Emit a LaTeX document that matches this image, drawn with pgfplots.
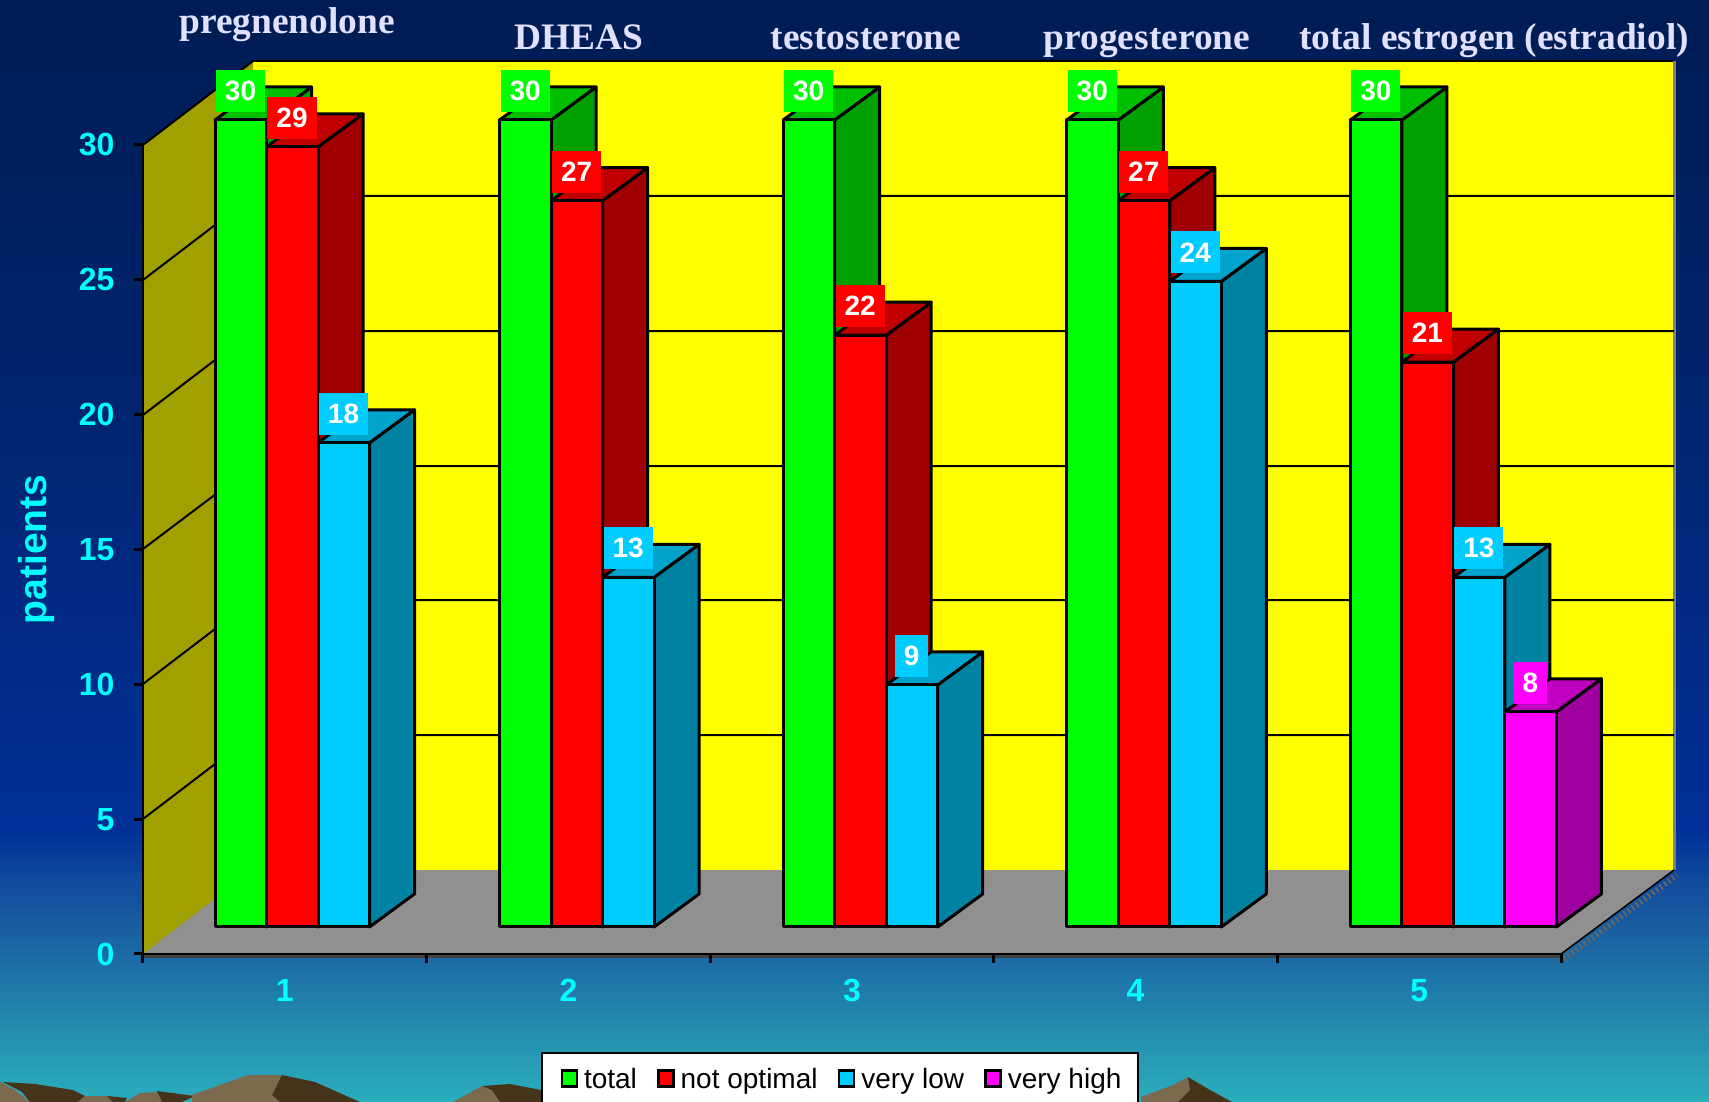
\documentclass[border=0pt]{standalone}
\usepackage{fontspec}
\setmainfont{Liberation Sans}
\newfontfamily\serifb{Liberation Serif}
\usepackage{pgfplots}
\pgfplotsset{compat=1.18}
\definecolor{bgA}{RGB}{43,174,190}
\definecolor{bgB}{RGB}{37,146,176}
\definecolor{bgC}{RGB}{27,104,164}
\definecolor{bgD}{RGB}{16,74,156}
\definecolor{bgE}{RGB}{0,48,152}
\definecolor{bgF}{RGB}{0,36,110}
\definecolor{bgG}{RGB}{0,28,84}
\pgfdeclareverticalshading{skybg}{100bp}{
 color(0bp)=(bgA);color(25bp)=(bgA);color(27.8bp)=(bgB);color(31.9bp)=(bgC);
 color(35.1bp)=(bgD);color(37.3bp)=(bgE);color(56.8bp)=(bgF);color(75bp)=(bgG);color(100bp)=(bgG)}
\definecolor{gF}{RGB}{0,255,0}\definecolor{gT}{RGB}{0,190,0}\definecolor{gS}{RGB}{0,160,0}
\definecolor{rF}{RGB}{255,0,0}\definecolor{rT}{RGB}{192,0,0}\definecolor{rS}{RGB}{160,0,0}
\definecolor{bF}{RGB}{0,204,255}\definecolor{bT}{RGB}{0,163,204}\definecolor{bS}{RGB}{0,130,163}
\definecolor{mF}{RGB}{255,0,255}\definecolor{mT}{RGB}{192,0,192}\definecolor{mS}{RGB}{160,0,160}
\definecolor{olivew}{RGB}{160,160,0}
\definecolor{wally}{RGB}{255,255,0}
\definecolor{tickc}{RGB}{0,255,255}
\definecolor{floorg}{RGB}{144,144,144}
\definecolor{titlec}{RGB}{224,224,255}
\definecolor{mtL}{RGB}{123,106,78}
\definecolor{mtD}{RGB}{70,52,26}
% bar: left x, value, colour prefix
\newcommand\threedbar[3]{%
 \pgfmathsetmacro\xa{#1+51.5}%
 \pgfmathsetmacro\xb{#1+96.5}%
 \pgfmathsetmacro\xc{#1+45}%
 \pgfmathsetmacro\yt{#2+1.2268}%
 \addplot[forget plot,draw=black,line width=3pt,line join=round,fill=#3S] coordinates {(\xa,0)(\xb,1.2268)(\xb,\yt)(\xa,#2)} --cycle;
 \addplot[forget plot,draw=black,line width=3pt,line join=round,fill=#3T] coordinates {(#1,#2)(\xa,#2)(\xb,\yt)(\xc,\yt)} --cycle;
 \addplot[forget plot,draw=black,line width=3pt,line join=round,fill=#3F] coordinates {(#1,0)(\xa,0)(\xa,#2)(#1,#2)} --cycle;
}
\newcommand\barlabel[3]{%
 \pgfmathsetmacro\xa{#1+25.5}%
 \addplot[forget plot,draw=none,mark=none,point meta=explicit symbolic,nodes near coords,
  nodes near coords style={anchor=center,yshift=29pt,fill=#3F,text=white,
   font=\fontsize{28}{30}\selectfont\bfseries,inner xsep=9pt,inner ysep=0pt,minimum height=42pt}]
  coordinates {(\xa,#2)[#2]};
}
\begin{document}
\begin{tikzpicture}
% backdrop, in picture pixels
\begin{axis}[scale only axis,width=1709pt,height=1102pt,xmin=0,xmax=1709,ymin=0,ymax=1102,y dir=reverse,hide axis,clip=true]
\addplot[draw=none,shade,shading=skybg,forget plot] coordinates {(0,0)(1709,0)(1709,1102)(0,1102)} --cycle;
% mountains
\addplot[draw=none,fill=mtL] coordinates {(0,1082)(15,1090)(30,1102)(0,1102)} --cycle;
\addplot[draw=none,fill=mtD] coordinates {(3,1082)(35,1084)(73,1090)(85,1096)(78,1102)(30,1102)(22,1092)} --cycle;
\addplot[draw=none,fill=mtL] coordinates {(78,1102)(85,1096)(107,1096)(113,1102)} --cycle;
\addplot[draw=none,fill=mtD] coordinates {(107,1096)(127,1098)(125,1102)(113,1102)} --cycle;
\addplot[draw=none,fill=mtL] coordinates {(125,1102)(140,1093)(157,1092)(162,1102)} --cycle;
\addplot[draw=none,fill=mtD] coordinates {(157,1091)(195,1096)(182,1102)(162,1102)} --cycle;
\addplot[draw=none,fill=mtL] coordinates {(192,1095)(248,1075)(282,1075)(272,1095)(280,1102)(192,1102)} --cycle;
\addplot[draw=none,fill=mtD] coordinates {(282,1075)(315,1082)(360,1102)(280,1102)(272,1095)} --cycle;
\addplot[draw=none,fill=mtL] coordinates {(453,1102)(482,1086)(492,1090)(500,1102)} --cycle;
\addplot[draw=none,fill=mtD] coordinates {(482,1086)(510,1084)(541,1090)(541,1102)(500,1102)(492,1090)} --cycle;
\addplot[draw=none,fill=mtL] coordinates {(1141,1097)(1173,1085)(1188,1077)(1190,1090)(1178,1102)(1141,1102)} --cycle;
\addplot[draw=none,fill=mtD] coordinates {(1188,1077)(1210,1090)(1232,1102)(1178,1102)(1190,1090)} --cycle;
% walls and floor
\addplot[draw=none,fill=wally] coordinates {(253,61)(1674,61)(1674,870)(253,870)} --cycle;
\addplot[draw=none,fill=olivew] coordinates {(143,954)(143,145)(253,61)(253,870)} --cycle;
\addplot[draw=none,fill=floorg] coordinates {(143,954)(1561,954)(1674,870)(253,870)} --cycle;
\addplot[draw=none,fill=black!75] coordinates {(143,954)(1561,954)(1561,958)(143,958)} --cycle;
\addplot[black,line width=2pt] coordinates {(143,145)(253,61)(1674,61)};
\addplot[black!50,line width=3pt] coordinates {(1674,61)(1674,870)};
% grid
\addplot[black,line width=2pt] coordinates {(143,819)(253,735)(1674,735)};
\addplot[black,line width=2pt] coordinates {(143,684)(253,600)(1674,600)};
\addplot[black,line width=2pt] coordinates {(143,549)(253,466)(1674,466)};
\addplot[black,line width=2pt] coordinates {(143,415)(253,331)(1674,331)};
\addplot[black,line width=2pt] coordinates {(143,280)(253,196)(1674,196)};
% right depth edge
\addplot[black!60,line width=6pt,dash pattern=on 2pt off 3pt] coordinates {(1564,959)(1677,875)};
\addplot[black,line width=1.5pt] coordinates {(1561,954)(1674,870)};
% titles
\node[anchor=base,text=titlec,font=\fontsize{37.4}{40}\selectfont\serifb\bfseries] at (axis cs:287,34) {pregnenolone};
\node[anchor=base,text=titlec,font=\fontsize{37.4}{40}\selectfont\serifb\bfseries] at (axis cs:579,50) {DHEAS};
\node[anchor=base,text=titlec,font=\fontsize{37.4}{40}\selectfont\serifb\bfseries] at (axis cs:866,50) {testosterone};
\node[anchor=base,text=titlec,font=\fontsize{37.4}{40}\selectfont\serifb\bfseries] at (axis cs:1147,50) {progesterone};
\node[anchor=base,text=titlec,font=\fontsize{37.4}{40}\selectfont\serifb\bfseries] at (axis cs:1494,50) {total estrogen (estradiol)};
\end{axis}
% axis with its ticks
\begin{axis}[scale only axis,at={(143pt,148pt)},width=1418pt,height=809pt,
 xmin=0,xmax=5,ymin=0,ymax=30,axis x line=bottom,axis y line=left,
 axis line style={-,black,line width=2.5pt},
 tick align=outside,major tick length=9pt,minor tick length=9pt,
 xtick={0.5,1.5,2.5,3.5,4.5},xticklabels={1,2,3,4,5},
 minor xtick={0,1,2,3,4,5},
 major x tick style={draw=none},
 minor x tick style={black,line width=3pt},
 ytick={0,5,10,15,20,25,30},
 y tick style={black,line width=3pt},
 /pgf/number format/assume math mode=true,
 tick label style={text=tickc,font=\fontsize{32}{34}\selectfont\bfseries},
 xticklabel style={yshift=-13pt},
 yticklabel style={xshift=-16pt},
 ylabel={patients},
 ylabel style={at={(axis description cs:-0.0755,0.5)},anchor=center,text=tickc,font=\fontsize{39}{42}\selectfont\bfseries},
]
\end{axis}
% bars, x in picture pixels, y in patients
\begin{axis}[scale only axis,width=1709pt,height=1102pt,xmin=0,xmax=1709,ymin=-6.5056,ymax=34.461,hide axis,clip=false,
 legend columns=4,
 legend image code/.code={\path[draw=none,fill=none] (-5.5pt,0pt) -- (15pt,0pt);\draw[#1,draw=black,line width=2.5pt] (0pt,-8pt) rectangle (15pt,8pt);},
 legend style={at={(0.31656,0.04537)},anchor=north west,draw=black,fill=white,line width=1.5pt,
   font=\fontsize{28}{30}\selectfont,inner xsep=14.5pt,inner ysep=10pt,
   nodes={inner xsep=2pt,inner ysep=5pt},
   /tikz/every odd column/.append style={column sep=4pt},
   /tikz/every even column/.append style={column sep=14pt}},
]
\threedbar{215}{30}{g}\threedbar{266.5}{29}{r}\threedbar{318}{18}{b}
\threedbar{499.6}{30}{g}\threedbar{551.1}{27}{r}\threedbar{602.6}{13}{b}
\threedbar{783.2}{30}{g}\threedbar{834.7}{22}{r}\threedbar{886.2}{9}{b}
\threedbar{1066.8}{30}{g}\threedbar{1118.3}{27}{r}\threedbar{1169.8}{24}{b}
\threedbar{1350.4}{30}{g}\threedbar{1401.9}{21}{r}\threedbar{1453.4}{13}{b}\threedbar{1504.9}{8}{m}
\barlabel{215}{30}{g}\barlabel{266.5}{29}{r}\barlabel{318}{18}{b}
\barlabel{499.6}{30}{g}\barlabel{551.1}{27}{r}\barlabel{602.6}{13}{b}
\barlabel{783.2}{30}{g}\barlabel{834.7}{22}{r}\barlabel{886.2}{9}{b}
\barlabel{1066.8}{30}{g}\barlabel{1118.3}{27}{r}\barlabel{1169.8}{24}{b}
\barlabel{1350.4}{30}{g}\barlabel{1401.9}{21}{r}\barlabel{1453.4}{13}{b}\barlabel{1504.9}{8}{m}
\addlegendimage{fill=gF}
\addlegendimage{fill=rF}
\addlegendimage{fill=bF}
\addlegendimage{fill=mF}
\legend{total,not optimal,very low,very high}
\end{axis}
\pgfresetboundingbox
\path (0pt,0pt) rectangle (1709pt,1102pt);
\end{tikzpicture}
\end{document}
